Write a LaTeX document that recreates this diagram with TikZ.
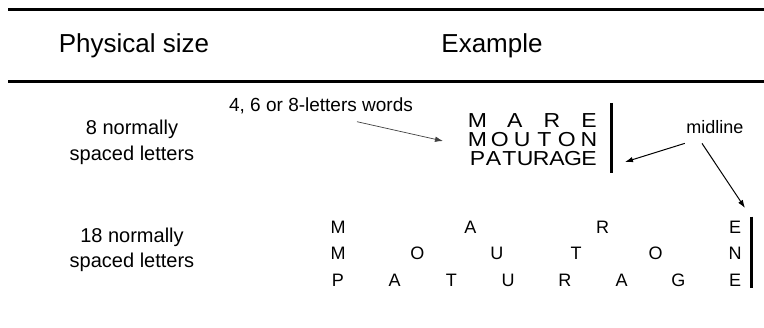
\documentclass[tikz,border=0pt]{standalone}
\usepackage{fontspec}
\setmainfont{Liberation Sans}
\usetikzlibrary{calc}
\usetikzlibrary{arrows.meta}

\tikzset{
  head/.style={font=\fontsize{26}{30}\selectfont, inner sep=0pt, anchor=base},
  side/.style={font=\fontsize{20}{25.5}\selectfont, inner sep=0pt, align=center},
  note/.style={font=\fontsize{19}{23}\selectfont, inner sep=0pt, anchor=base},
  letter/.style={font=\fontsize{23}{24}\selectfont, inner sep=0pt, anchor=base},
  wideletter/.style={font=\fontsize{18}{21}\selectfont, inner sep=0pt, anchor=base},
  rule/.style={line width=2.5pt},
  midbar/.style={line width=2.5pt},
  pointer/.style={-{Latex[length=8pt,width=5.5pt]}, line width=1pt},
}

\begin{document}
\begin{tikzpicture}[x=1pt,y=-1pt]
    \path[use as bounding box] (0,0) rectangle (764,328);
    % Rules.
    \draw[rule] (8,9.3) -- (764,9.3);
    \draw[rule] (8,81.7) -- (764,81.7);
    % Headings.
    \node[head] (size) at (134,53) {Physical size};
    \node[head] (example) at (492,53) {Example};
    % Row labels.
    \node[side] (short) at (132,142.3) {8 normally\\spaced letters};
    \node[side] (long) at (132,249.8) {18 normally\\spaced letters};
    % Words, 8 letters wide.
    \foreach \w/\n/\y [count=\r] in {{M,A,R,E}/4/127.3, {M,O,U,T,O,N}/6/146.7, {P,A,T,U,R,A,G,E}/8/166}
      \foreach \c [count=\i] in \w
        \node[letter] (s\r-\i) at ({477.5+(\i-1)*111.5/(\n-1)},\y) {\scalebox{1}[0.88]{\c}};
    \draw[midbar] (611.7,103) -- (611.7,173);
    % Words, 18 letters wide.
    \foreach \w/\n/\y [count=\r] in {{M,A,R,E}/4/233.3, {M,O,U,T,O,N}/6/260, {P,A,T,U,R,A,G,E}/8/286.7}
      \foreach \c [count=\i] in \w
        \node[wideletter] (w\r-\i) at ({338+(\i-1)*397/(\n-1)},\y) {\c};
    \draw[midbar] (751.7,216.7) -- (751.7,288.3);
    % Notes.
    \node[note] (words) at (321,111.7) {4, 6 or 8-letters words};
    \node[note, font=\fontsize{18}{22}\selectfont] (mid) at (715,133.3) {midline};
    \coordinate (wordstip) at (443,141);
    \coordinate (shorttip) at (625,162);
    \coordinate (longtip) at (745,208);
    \draw[pointer, black!75, line width=0.7pt] ($(words.base)+(36,10)$) -- (wordstip);
    \draw[pointer] ($(mid.south west)+(-1.5,9.7)$) -- (shorttip);
    \draw[pointer] ($(mid.south)+(-13,9.7)$) -- (longtip);
\end{tikzpicture}
\end{document}
